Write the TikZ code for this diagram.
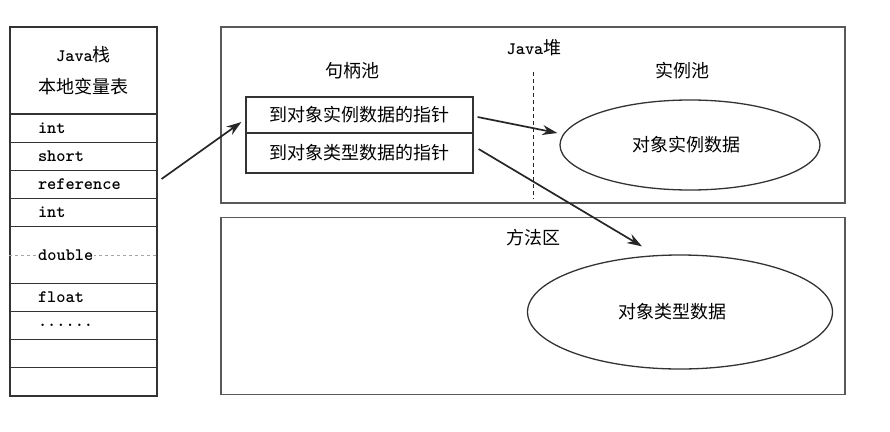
\documentclass[tikz,border=0pt]{standalone}
\usepackage{fontspec}
\newfontfamily\cjk{Noto Sans CJK SC}
\newcommand\monof{\ttfamily\bfseries}
\usetikzlibrary{arrows.meta,shapes.geometric}
\begin{document}
\begin{tikzpicture}[x=1pt,y=-1pt,
  cell/.style={draw=black!80, line width=1.1pt, minimum width=147pt, minimum height=28.2pt,
     inner sep=0pt, inner xsep=28pt, text width=91pt, align=left, font=\monof\fontsize{17.5}{19}\selectfont},
  area/.style={draw=black!65, line width=1.8pt, minimum width=624pt, inner sep=0pt},
  hrow/.style={draw=black!80, line width=1.2pt, minimum width=227pt, inner sep=0pt, font=\cjk\fontsize{18}{20}\selectfont},
  oval/.style={ellipse, draw=black!80, line width=1.3pt, inner sep=0pt, font=\cjk\fontsize{18}{20}\selectfont},
  ttl/.style={font=\cjk\fontsize{18}{20}\selectfont, inner sep=0pt},
  arr/.style={draw=black!85, line width=1.7pt, -{Stealth[length=15pt,width=10pt]}}
]
\useasboundingbox (0,0) rectangle (890,431);
% Java stack
\node[cell, minimum height=87pt, text width=147pt, inner xsep=0pt, align=center,
      font=\fontsize{18}{32}\selectfont] (hdr) at (83.5,70.5)
      {{\monof\fontsize{17.5}{19}\selectfont Java}{\cjk 栈}\\{\cjk 本地变量表}};
\node[cell] (r1) at (83.5,128.1) {int};
\node[cell] (r2) at (83.5,156.3) {short};
\node[cell] (ref) at (83.5,184.5) {reference};
\node[cell] (r4) at (83.5,212.7) {int};
\node[cell, minimum height=56.4pt] (dbl) at (83.5,255) {};
\draw[black!35, line width=0.8pt, dash pattern=on 3pt off 3pt] (dbl.west) -- (dbl.east);
\node[fill=white, inner xsep=1pt, inner ysep=1pt, anchor=west, font=\monof\fontsize{17.5}{19}\selectfont] (dbt) at (37,255) {double};
\node[cell] (r6) at (83.5,297.3) {float};
\node[cell] (r7) at (83.5,325.5) {......};
\node[cell] (r8) at (83.5,353.7) {};
\node[cell] (r9) at (83.5,381.9) {};
% Java heap
\node[area, minimum height=176pt] (heap) at (533,115) {};
\node[ttl] (heapt) at (534,48) {{\monof\fontsize{17.5}{19}\selectfont Java}堆};
\node[ttl] (hpt) at (352,71) {句柄池};
\node[ttl] (ipt) at (682,71) {实例池};
\coordinate (dtop) at (533,72);
\coordinate (dbot) at (533,199);
\draw[black!85, line width=0.9pt, dash pattern=on 4pt off 3pt] (dtop) -- (dbot);
\node[hrow, minimum height=36pt] (h1) at (359.5,115) {到对象实例数据的指针};
\node[hrow, minimum height=40pt] (h2) at (359.5,153) {到对象类型数据的指针};
\node[oval, minimum width=260pt, minimum height=90pt] (inst) at (690,145) {\hspace*{-8pt}对象实例数据};
% Method area
\node[area, minimum height=177pt] (meth) at (533,306) {};
\node[ttl] (metht) at (533,238) {方法区};
\node[oval, minimum width=305pt, minimum height=114pt] (typ) at (680,312) {\hspace*{-16pt}对象类型数据};
% arrows
\draw[arr] ([xshift=4pt,yshift=5.5pt]ref.east) -- ([xshift=-4pt,yshift=-7pt]h1.west);
\draw[arr] ([xshift=4pt,yshift=-2pt]h1.east) -- ([xshift=-2pt,yshift=12pt]inst.west);
\draw[arr] ([xshift=5pt,yshift=4pt]h2.east) -- ([xshift=-38pt,yshift=8pt]typ.north);
\end{tikzpicture}
\end{document}
